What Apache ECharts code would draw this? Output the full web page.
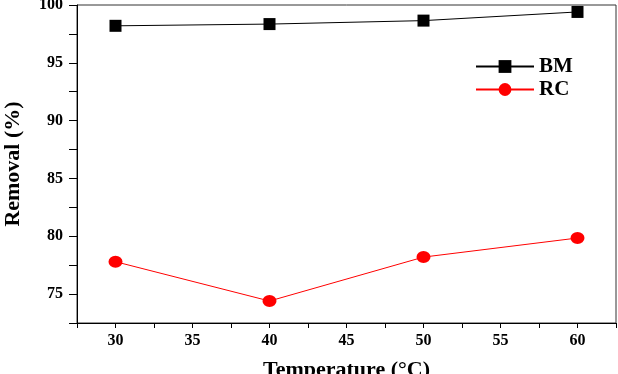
<!DOCTYPE html>
<html>
<head>
<meta charset="UTF-8">
<title>Removal vs Temperature</title>
<script src="https://cdn.jsdelivr.net/npm/echarts@6/dist/echarts.min.js"></script>
<style>
  html, body { margin: 0; padding: 0; background: #fff; }
  #main { width: 618px; height: 374px; }
</style>
</head>
<body>
<div id="main"></div>
<script type="text/javascript">
    var temperature = [30, 40, 50, 60];
    var bmRemoval = [98.2, 98.35, 98.65, 99.4];
    var rcRemoval = [77.8, 74.4, 78.2, 79.85];

    function pairs(xs, ys) {
        return xs.map(function (x, i) { return [x, ys[i]]; });
    }
    function every5(v) {
        return Math.abs(v % 5) < 1e-6 ? String(v) : '';
    }

    var serif = '"Liberation Serif", "Times New Roman", serif';
    var chart = echarts.init(document.getElementById('main'));
    var option = {
        animation: false,
        grid: {
            left: 77, right: 2, top: 5, bottom: 51,
            outerBoundsMode: 'none',
            show: true, borderColor: '#333', borderWidth: 1
        },
        legend: {
            left: 470, top: 51,
            orient: 'vertical',
            itemWidth: 58, itemHeight: 16, itemGap: 2,
            textStyle: { fontFamily: serif, fontWeight: 'bold', fontSize: 21, color: '#000' },
            data: ['BM', 'RC']
        },
        xAxis: {
            type: 'value',
            min: 27.5, max: 62.5, interval: 2.5,
            name: 'Temperature (°C)',
            nameLocation: 'middle', nameGap: 36,
            nameTextStyle: { fontFamily: serif, fontWeight: 'bold', fontSize: 22, color: '#000' },
            axisLine: { lineStyle: { color: '#000', width: 1 } },
            axisTick: { inside: false, length: 5, lineStyle: { color: '#000' } },
            axisLabel: { formatter: every5, fontFamily: serif, fontWeight: 'bold', fontSize: 16, color: '#000', margin: 10 },
            splitLine: { show: false }
        },
        yAxis: {
            type: 'value',
            min: 72.5, max: 100, interval: 2.5,
            name: 'Removal (%)',
            nameLocation: 'middle', nameGap: 53,
            nameTextStyle: { fontFamily: serif, fontWeight: 'bold', fontSize: 22, color: '#000' },
            axisLine: { show: true, lineStyle: { color: '#000', width: 1 } },
            axisTick: { show: true, inside: false, length: 8, lineStyle: { color: '#000' } },
            axisLabel: { formatter: every5, fontFamily: serif, fontWeight: 'bold', fontSize: 16, color: '#000', margin: 14 },
            splitLine: { show: false }
        },
        series: [
            {
                name: 'BM',
                type: 'line',
                data: pairs(temperature, bmRemoval),
                symbol: 'rect', symbolSize: 12,
                itemStyle: { color: '#000' },
                lineStyle: { color: '#000', width: 1 }
            },
            {
                name: 'RC',
                type: 'line',
                data: pairs(temperature, rcRemoval),
                symbol: 'circle', symbolSize: [14, 12],
                itemStyle: { color: '#ff0000' },
                lineStyle: { color: '#ff0000', width: 1 }
            }
        ]
    };
    chart.setOption(option);
</script>
</body>
</html>
